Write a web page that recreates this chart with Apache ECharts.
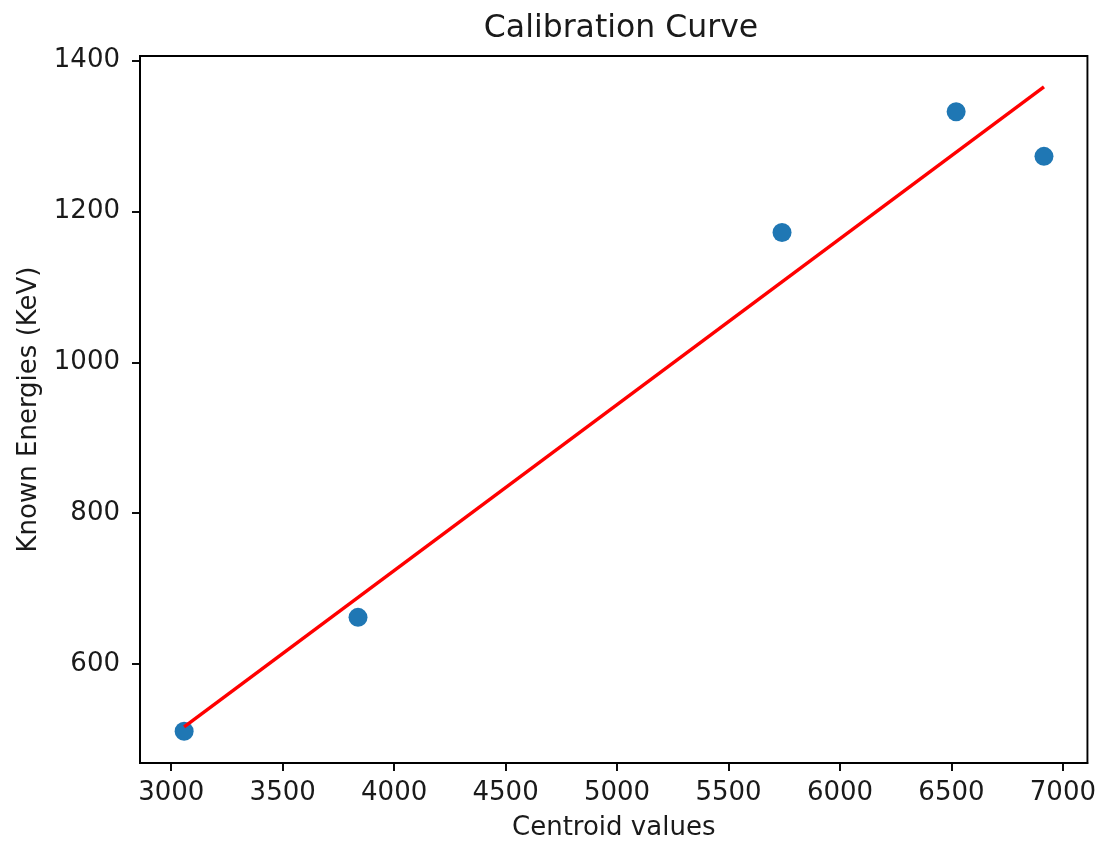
<!DOCTYPE html>
<html>
<head>
<meta charset="utf-8">
<script src="https://cdn.jsdelivr.net/npm/echarts@6/dist/echarts.min.js"></script>
<style>html,body{margin:0;padding:0;background:#fff}#c{width:1099px;height:846px}</style>
</head>
<body>
<div id="c"></div>
<script>
const centroids = [3058, 3838, 5740, 6521, 6915];
const energies = [511, 662, 1172, 1332, 1273];
const fitX = [3058, 6915];
const fitY = [517, 1365];
const xTicks = [3000, 3500, 4000, 4500, 5000, 5500, 6000, 6500, 7000];
const yTicks = [600, 800, 1000, 1200, 1400];

const font = 'DejaVu Sans';
const chart = echarts.init(document.getElementById('c'), null, {renderer: 'canvas'});
const axisCommon = {
  type: 'value',
  axisLine: {show: true, onZero: false, lineStyle: {color: '#000', width: 1.9}},
  axisTick: {show: true, length: 8, lineStyle: {color: '#000', width: 1.9}},
  splitLine: {show: false},
  nameTextStyle: {fontFamily: font, fontSize: 26, color: '#1a1a1a'},
  nameLocation: 'middle'
};
const labelCommon = {fontFamily: font, fontSize: 26, color: '#1a1a1a', formatter: v => String(v)};
chart.setOption({
  animation: false,
  backgroundColor: '#fff',
  title: {
    text: 'Calibration Curve', left: 616, top: 8, textAlign: 'center',
    textStyle: {fontFamily: font, fontSize: 31.5, fontWeight: 'normal', color: '#1a1a1a'}
  },
  grid: {left: 140, right: 7, top: 56, bottom: 82, containLabel: false,
    show: true, borderColor: '#000', borderWidth: 1.9},
  xAxis: Object.assign({}, axisCommon, {
    min: 2860, max: 7110,
    name: 'Centroid values', nameGap: 52,
    axisTick: Object.assign({}, axisCommon.axisTick, {customValues: xTicks}),
    axisLabel: Object.assign({}, labelCommon, {customValues: xTicks, margin: 17})
  }),
  yAxis: Object.assign({}, axisCommon, {
    min: 469, max: 1406,
    name: 'Known Energies (KeV)', nameGap: 98, nameRotate: 90,
    axisTick: Object.assign({}, axisCommon.axisTick, {customValues: yTicks}),
    axisLabel: Object.assign({}, labelCommon, {customValues: yTicks, margin: 20})
  }),
  series: [
    {
      type: 'scatter', symbolSize: 19,
      itemStyle: {color: '#1f77b4', opacity: 1},
      data: centroids.map((x, i) => [x, energies[i]]),
      z: 2
    },
    {
      type: 'line', symbol: 'none',
      lineStyle: {color: '#ff0000', width: 3.4},
      data: fitX.map((x, i) => [x, fitY[i]]),
      z: 3
    }
  ]
});
</script>
</body>
</html>
